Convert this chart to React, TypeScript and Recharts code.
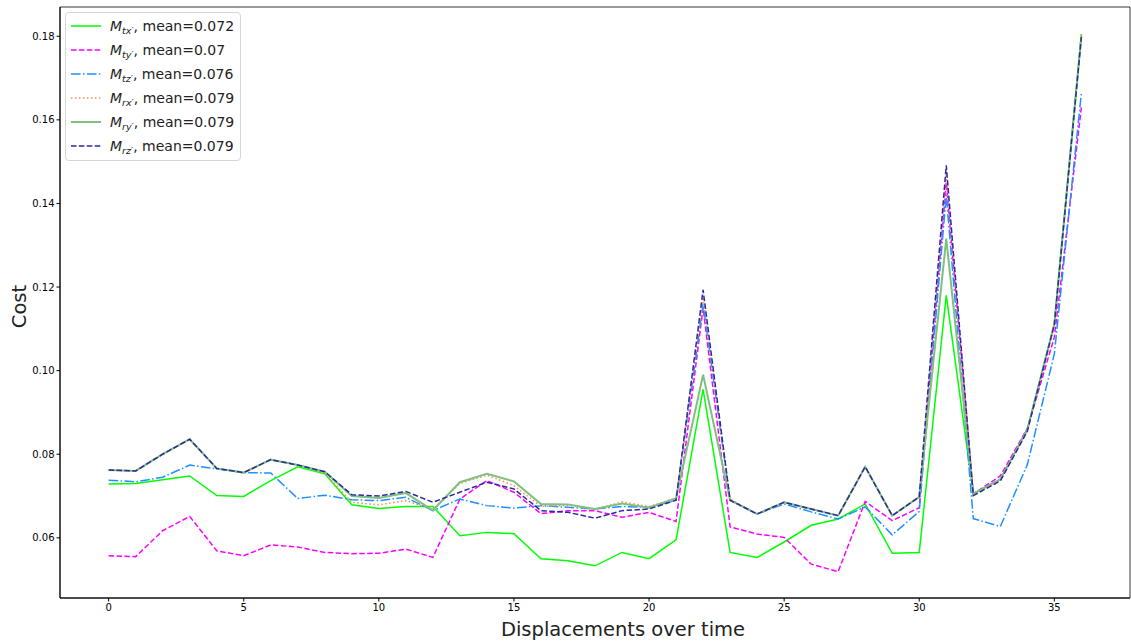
import React from "react";
import { LineChart, Line, XAxis, YAxis, ReferenceArea, Legend } from "recharts";

const steps: number[] = Array.from({ length: 37 }, (_, i) => i);

const tx = [0.0729, 0.0730, 0.0739, 0.0748, 0.0701, 0.0699, 0.0737, 0.0770, 0.0753, 0.0679, 0.0670, 0.0675, 0.0675, 0.0605, 0.0613, 0.0610, 0.0550, 0.0545, 0.0533, 0.0565, 0.0550, 0.0595, 0.0955, 0.0565, 0.0553, 0.0590, 0.0630, 0.0645, 0.0681, 0.0563, 0.0565, 0.1180, 0.0706, 0.0740, 0.0860, 0.1112, 0.1805];
const ty = [0.0557, 0.0555, 0.0617, 0.0651, 0.0569, 0.0557, 0.0583, 0.0578, 0.0565, 0.0562, 0.0563, 0.0573, 0.0553, 0.0693, 0.0737, 0.0709, 0.0658, 0.0665, 0.0665, 0.0649, 0.0661, 0.0639, 0.1150, 0.0626, 0.0609, 0.0601, 0.0537, 0.0519, 0.0687, 0.0641, 0.0672, 0.1450, 0.0705, 0.0748, 0.0862, 0.1080, 0.1630];
const tz = [0.0738, 0.0734, 0.0745, 0.0774, 0.0765, 0.0756, 0.0755, 0.0694, 0.0702, 0.0691, 0.0689, 0.0697, 0.0665, 0.0693, 0.0677, 0.0671, 0.0677, 0.0673, 0.0669, 0.0675, 0.0673, 0.0690, 0.1160, 0.0690, 0.0657, 0.0681, 0.0662, 0.0645, 0.0674, 0.0607, 0.0663, 0.1420, 0.0646, 0.0627, 0.0775, 0.1040, 0.1664];
const rx = [0.0762, 0.0760, 0.0800, 0.0836, 0.0766, 0.0756, 0.0787, 0.0774, 0.0755, 0.0685, 0.0679, 0.0689, 0.0668, 0.0730, 0.0750, 0.0725, 0.0675, 0.0678, 0.0668, 0.0686, 0.0675, 0.0695, 0.1176, 0.0693, 0.0657, 0.0685, 0.0669, 0.0653, 0.0770, 0.0653, 0.0698, 0.1470, 0.0703, 0.0738, 0.0857, 0.1110, 0.1805];
const ry = [0.0762, 0.0760, 0.0800, 0.0836, 0.0766, 0.0756, 0.0787, 0.0774, 0.0758, 0.0700, 0.0695, 0.0707, 0.0666, 0.0733, 0.0753, 0.0735, 0.0681, 0.0680, 0.0669, 0.0682, 0.0672, 0.0695, 0.0990, 0.0690, 0.0657, 0.0685, 0.0669, 0.0653, 0.0770, 0.0653, 0.0698, 0.1316, 0.0705, 0.0740, 0.0858, 0.1112, 0.1800];
const rz = [0.0762, 0.0760, 0.0800, 0.0836, 0.0766, 0.0756, 0.0787, 0.0774, 0.0758, 0.0703, 0.0700, 0.0711, 0.0685, 0.0709, 0.0733, 0.0717, 0.0665, 0.0661, 0.0647, 0.0665, 0.0669, 0.0690, 0.1193, 0.0690, 0.0657, 0.0685, 0.0669, 0.0653, 0.0770, 0.0653, 0.0698, 0.1491, 0.0701, 0.0736, 0.0855, 0.1110, 0.1798];

const xTicks = [0, 5, 10, 15, 20, 25, 30, 35];
const yTicks = [0.06, 0.08, 0.1, 0.12, 0.14, 0.16, 0.18];
const xDomain: [number, number] = [-1.8, 37.8];
const yDomain: [number, number] = [0.0456, 0.187];

const seriesInfo = [
  { key: "tx", sub: "tx\u2032", mean: "0.072", color: "#00ff00", dash: undefined as string | undefined, width: 1.5 },
  { key: "ty", sub: "ty\u2032", mean: "0.07", color: "#ff00ff", dash: "5.5 2.4", width: 1.5 },
  { key: "tz", sub: "tz\u2032", mean: "0.076", color: "#1e90ff", dash: "9.6 2.4 1.5 2.4", width: 1.5 },
  { key: "rx", sub: "rx\u2032", mean: "0.079", color: "#ff8c50", dash: "1.5 2.5", width: 1.5 },
  { key: "ry", sub: "ry\u2032", mean: "0.079", color: "#7fc07f", dash: undefined as string | undefined, width: 2 },
  { key: "rz", sub: "rz\u2032", mean: "0.079", color: "#2a2aa0", dash: "5.5 2.4", width: 1.5 },
];

const data = steps.map((s, i) => ({ x: s, tx: tx[i], ty: ty[i], tz: tz[i], rx: rx[i], ry: ry[i], rz: rz[i] }));

const FONT = "'DejaVu Sans', sans-serif";

function LegendBox() {
  return (
    <div
      style={{
        width: 174,
        height: 146,
        border: "1px solid #d6d6d6",
        borderRadius: 4,
        background: "rgba(255,255,255,0.8)",
        fontFamily: FONT,
        fontSize: 14,
        color: "#222",
        boxSizing: "content-box",
        paddingTop: 1,
      }}
    >
      {seriesInfo.map((s) => (
        <div key={s.key} style={{ height: 24, display: "flex", alignItems: "center", whiteSpace: "nowrap" }}>
          <svg width={44} height={24} style={{ display: "block", flex: "none" }}>
            <line x1={5} x2={35} y1={12} y2={12} stroke={s.color} strokeWidth={s.width} strokeDasharray={s.dash} />
          </svg>
          <span>
            <i>M</i>
            <i style={{ fontSize: 9.5, position: "relative", top: 3 }}>{s.sub}</i>, mean={s.mean}
          </span>
        </div>
      ))}
    </div>
  );
}

export default function App() {
  return (
    <div style={{ position: "absolute", left: 0, top: 0, width: 1131, height: 644, background: "#fff" }}>
      <LineChart width={1131} height={644} data={data} margin={{ top: 7, right: 1, left: 0, bottom: 0 }}>
        <XAxis
          dataKey="x"
          type="number"
          domain={xDomain}
          ticks={xTicks}
          allowDataOverflow
          height={46}
          stroke="#000"
          tickSize={3.5}
          tick={{ fontSize: 10, fill: "#000", fontFamily: FONT }}
          label={{ value: "Displacements over time", position: "center", dx: 28, dy: 8, fontSize: 19.5, fill: "#222", fontFamily: FONT }}
        />
        <YAxis
          type="number"
          domain={yDomain}
          ticks={yTicks}
          allowDataOverflow
          width={60}
          stroke="#000"
          tickSize={3.5}
          tickFormatter={(v: number) => v.toFixed(2)}
          tick={{ fontSize: 10, fill: "#000", fontFamily: FONT }}
          label={{ value: "Cost", position: "center", angle: -90, dx: -11, dy: 4, fontSize: 19.5, fill: "#222", fontFamily: FONT }}
        />
        {seriesInfo.map((s) => (
          <Line
            key={s.key}
            type="linear"
            dataKey={s.key}
            stroke={s.color}
            strokeWidth={s.width}
            strokeDasharray={s.dash}
            dot={false}
            activeDot={false}
            isAnimationActive={false}
          />
        ))}
        <ReferenceArea x1={xDomain[0]} x2={xDomain[1]} y1={yDomain[0]} y2={yDomain[1]} fill="none" stroke="#000" strokeWidth={0.8} />
        <Legend
          layout="horizontal"
          verticalAlign="middle"
          align="center"
          content={() => <LegendBox />}
          wrapperStyle={{ position: "absolute", left: 65, top: 12, width: 176, height: 148 }}
        />
      </LineChart>
    </div>
  );
}
